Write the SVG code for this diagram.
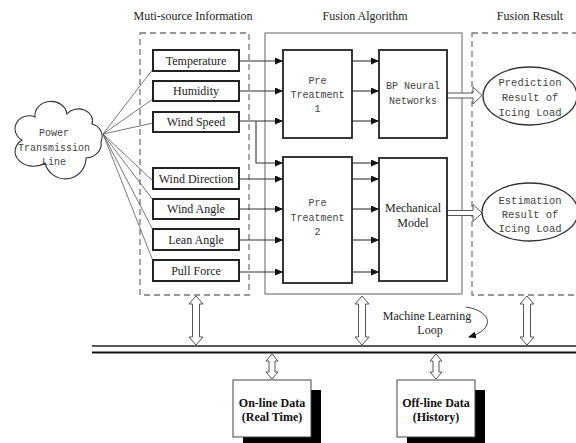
<svg xmlns="http://www.w3.org/2000/svg" width="576" height="443" viewBox="0 0 576 443">
<defs>
<marker id="ah" markerUnits="userSpaceOnUse" markerWidth="8" markerHeight="7" refX="8" refY="3.5" orient="auto"><path d="M0,0 L8,3.5 L0,7 z" fill="#111"/></marker>
<marker id="ah2" markerUnits="userSpaceOnUse" markerWidth="8" markerHeight="7" refX="7" refY="3.5" orient="auto"><path d="M0,0 L8,3.5 L0,7 z" fill="#111"/></marker>
</defs>
<style>
.t{font-family:"Liberation Serif",serif;font-size:12px;fill:#222;text-anchor:middle}
.m{font-family:"Liberation Mono",monospace;font-size:10px;fill:#444;text-anchor:middle}
.b{font-family:"Liberation Serif",serif;font-size:12px;font-weight:bold;fill:#111;text-anchor:middle}
.in{fill:#fff;stroke:#222;stroke-width:2}
.blk{fill:#fff;stroke:#222;stroke-width:1.8}
.dash{fill:none;stroke:#777;stroke-width:1.3;stroke-dasharray:6,4}
.ln{fill:none;stroke:#333;stroke-width:1.1}
.gl{fill:none;stroke:#555;stroke-width:0.8}
.hol{fill:#fff;stroke:#555;stroke-width:1}
</style>
<rect width="576" height="443" fill="#fff"/>

<g id="titles">
<text class="t" x="193" y="20">Muti-source Information</text>
<text class="t" x="365" y="20">Fusion Algorithm</text>
<text class="t" x="530" y="20">Fusion Result</text>
</g>

<g id="frames">
<rect class="dash" x="140" y="33" width="109" height="262"/>
<rect x="265" y="33" width="197" height="261" fill="none" stroke="#888" stroke-width="1.3"/>
<rect class="dash" x="472" y="33" width="120" height="262"/>
</g>

<g id="connectors">
<g class="gl">
<line x1="103" y1="134" x2="153" y2="69"/>
<line x1="103" y1="134" x2="153" y2="99"/>
<line x1="103" y1="134" x2="153" y2="123"/>
<line x1="103" y1="134" x2="153" y2="181"/>
<line x1="103" y1="134" x2="153" y2="200"/>
<line x1="103" y1="134" x2="153" y2="230"/>
<line x1="103" y1="134" x2="153" y2="261"/>
</g>
<g class="ln" marker-end="url(#ah)">
<line x1="239" y1="61" x2="283" y2="61"/>
<line x1="239" y1="91" x2="283" y2="91"/>
<line x1="239" y1="121" x2="283" y2="121"/>
<polyline points="256,121 256,163 283,163"/>
<line x1="239" y1="179" x2="283" y2="179"/>
<line x1="239" y1="209" x2="283" y2="209"/>
<line x1="239" y1="240" x2="283" y2="240"/>
<line x1="239" y1="272" x2="283" y2="272"/>
<line x1="352" y1="61" x2="379" y2="61"/>
<line x1="352" y1="91" x2="379" y2="91"/>
<line x1="352" y1="121" x2="379" y2="121"/>
<line x1="352" y1="163" x2="379" y2="163"/>
<line x1="352" y1="179" x2="379" y2="179"/>
<line x1="352" y1="209" x2="379" y2="209"/>
<line x1="352" y1="240" x2="379" y2="240"/>
<line x1="352" y1="272" x2="379" y2="272"/>
</g>
<polygon class="hol" points="447,93 473,93 473,87 482,95.5 473,104 473,98 447,98"/>
<polygon class="hol" points="447,210.5 473,210.5 473,204.5 482,213 473,221.5 473,215.5 447,215.5"/>
<polygon class="hol" points="196,296 203,304 199.5,304 199.5,337 203,337 196,345 189,337 192.5,337 192.5,304 189,304"/>
<polygon class="hol" points="362,296 369,304 365.5,304 365.5,337 369,337 362,345 355,337 358.5,337 358.5,304 355,304"/>
<polygon class="hol" points="527,296 534,304 530.5,304 530.5,337 534,337 527,345 520,337 523.5,337 523.5,304 520,304"/>
<polygon class="hol" points="272,354 278,361 275,361 275,372 278,372 272,379 266,372 269,372 269,361 266,361"/>
<polygon class="hol" points="436,354 442,361 439,361 439,372 442,372 436,379 430,372 433,372 433,361 430,361"/>
<path d="M466,307 C492,311 496,329 469,337" fill="none" stroke="#444" stroke-width="1" marker-end="url(#ah2)"/>
</g>

<g id="bus">
<line x1="92" y1="346" x2="576" y2="346" stroke="#222" stroke-width="1.3"/>
<line x1="92" y1="352.5" x2="576" y2="352.5" stroke="#111" stroke-width="2.2"/>
</g>

<g id="cloud">
<path d="M22,140 A14,13 0 0 1 35,117 A16,14 0 0 1 67,114 A14,12 0 0 1 92,124 A13,13 0 0 1 101,142 A16,14 0 0 1 86,158 A20.8,20.8 0 0 1 45,163 A15,12 0 0 1 22,140 z" fill="#fff" stroke="#333" stroke-width="1.1"/>
<text class="m" x="54" y="136">Power</text>
<text class="m" x="54" y="151">Transmission</text>
<text class="m" x="54" y="165">Line</text>
</g>

<g id="temperature"><rect class="in" x="153" y="50" width="86" height="21"/><text class="t" x="196" y="65">Temperature</text></g>
<g id="humidity"><rect class="in" x="153" y="81" width="86" height="20"/><text class="t" x="196" y="95">Humidity</text></g>
<g id="wind-speed"><rect class="in" x="153" y="112" width="86" height="20"/><text class="t" x="196" y="126">Wind Speed</text></g>
<g id="wind-direction"><rect class="in" x="153" y="168" width="86" height="21"/><text class="t" x="196" y="183">Wind Direction</text></g>
<g id="wind-angle"><rect class="in" x="153" y="199" width="86" height="20"/><text class="t" x="196" y="213">Wind Angle</text></g>
<g id="lean-angle"><rect class="in" x="153" y="229" width="86" height="21"/><text class="t" x="196" y="244">Lean Angle</text></g>
<g id="pull-force"><rect class="in" x="153" y="260" width="86" height="21"/><text class="t" x="196" y="275">Pull Force</text></g>

<g id="pre-treatment-1"><rect class="blk" x="283" y="50" width="69" height="88"/>
<text class="m" x="317.5" y="84">Pre</text><text class="m" x="317.5" y="98">Treatment</text><text class="m" x="317.5" y="112">1</text></g>
<g id="bp-neural"><rect class="blk" x="379" y="50" width="68" height="88"/>
<text class="m" x="413" y="89">BP Neural</text><text class="m" x="413" y="104">Networks</text></g>
<g id="pre-treatment-2"><rect class="blk" x="283" y="157" width="69" height="126"/>
<text class="m" x="317.5" y="206">Pre</text><text class="m" x="317.5" y="221">Treatment</text><text class="m" x="317.5" y="235">2</text></g>
<g id="mechanical-model"><rect class="blk" x="379" y="158" width="68" height="123"/>
<text class="t" x="413" y="212" fill="#444">Mechanical</text><text class="t" x="413" y="227">Model</text></g>

<g id="prediction"><ellipse cx="530" cy="96" rx="47" ry="29" fill="#fff" stroke="#333" stroke-width="1.3"/>
<text class="m" x="530" y="86" style="font-size:10.5px">Prediction</text><text class="m" x="530" y="101" style="font-size:10.5px">Result of</text><text class="m" x="530" y="116" style="font-size:10.5px">Icing Load</text></g>
<g id="estimation"><ellipse cx="530" cy="212" rx="48" ry="29" fill="#fff" stroke="#333" stroke-width="1.3"/>
<text class="m" x="530" y="204" style="font-size:10.5px">Estimation</text><text class="m" x="530" y="218" style="font-size:10.5px">Result of</text><text class="m" x="530" y="232" style="font-size:10.5px">Icing Load</text></g>

<g id="ml-loop"><text class="t" x="427" y="320">Machine Learning</text><text class="t" x="430" y="334">Loop</text></g>

<g id="online-data"><rect x="243" y="390" width="78" height="57" fill="#000"/><rect x="233" y="380" width="78" height="57" fill="#fff" stroke="#444" stroke-width="1"/>
<text class="b" x="272" y="407">On-line Data</text><text class="b" x="272" y="421">(Real Time)</text></g>
<g id="offline-data"><rect x="407" y="390" width="78" height="57" fill="#000"/><rect x="397" y="380" width="78" height="57" fill="#fff" stroke="#444" stroke-width="1"/>
<text class="b" x="436" y="407">Off-line Data</text><text class="b" x="436" y="421">(History)</text></g>
</svg>
